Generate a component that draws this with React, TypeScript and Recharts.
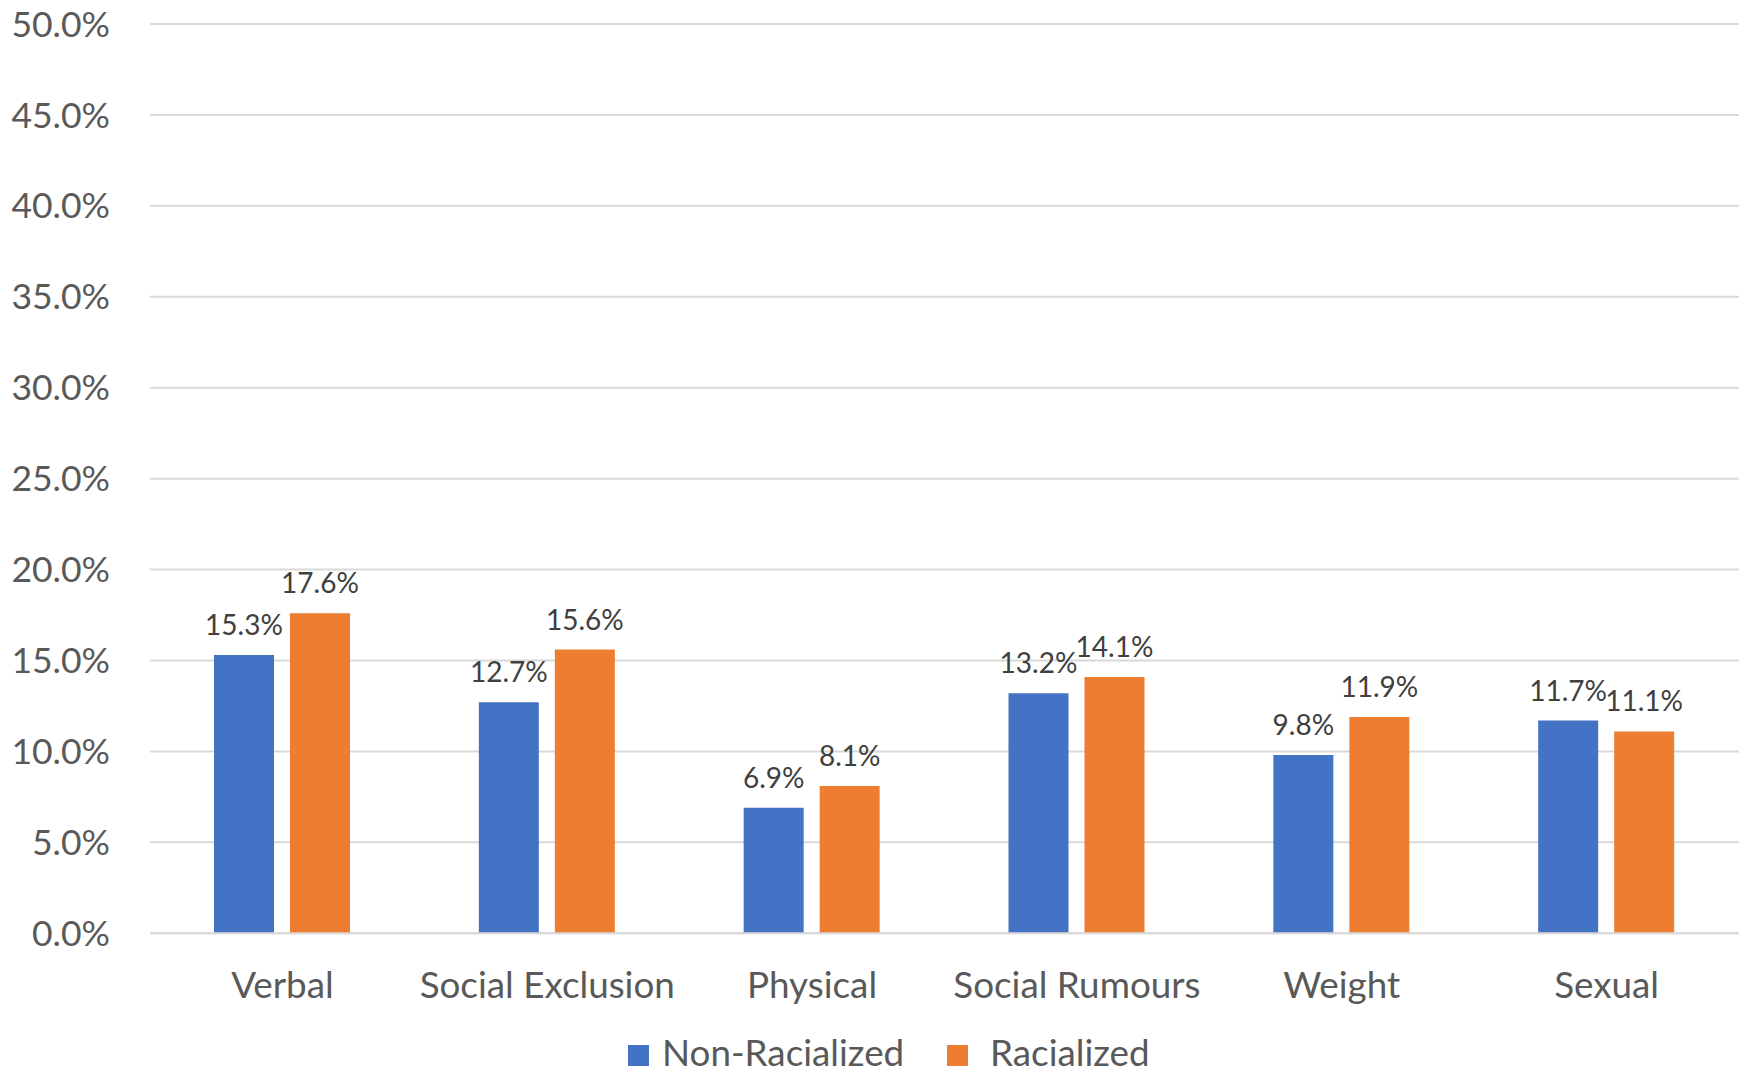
import React from "react";
import { BarChart, Bar, XAxis, YAxis, CartesianGrid, Legend, LabelList } from "recharts";

const categories = ["Verbal", "Social Exclusion", "Physical", "Social Rumours", "Weight", "Sexual"];
const nonRacialized = [15.3, 12.7, 6.9, 13.2, 9.8, 11.7];
const racialized = [17.6, 15.6, 8.1, 14.1, 11.9, 11.1];
const yTicks = [0, 5, 10, 15, 20, 25, 30, 35, 40, 45, 50];
const seriesNames = ["Non-Racialized", "Racialized"];

const data = categories.map((c, i) => ({
  name: c,
  nonRacialized: nonRacialized[i],
  racialized: racialized[i],
}));

const FONT = "Lato, 'Open Sans', sans-serif";
const BLUE = "#4472C4";
const ORANGE = "#ED7D31";

const fmt = (v: number) => v.toFixed(1) + "%";

const XTick = (props: any) => {
  const { x, y, payload } = props;
  return (
    <text x={x} y={y + 65} textAnchor="middle" fill="#595959" fontSize={36.8} fontFamily={FONT}>
      {payload.value}
    </text>
  );
};

const DataLabel = (props: any) => {
  const { x, y, width, value } = props;
  return (
    <text x={x + width / 2} y={y - 20} textAnchor="middle" fill="#404040" fontSize={28} fontFamily={FONT}>
      {fmt(value)}
    </text>
  );
};

const LegendContent = () => (
  <svg width={1746} height={50} style={{ display: "block" }}>
    <rect x={628} y={21} width={21} height={21} fill={BLUE} />
    <text x={662} y={42} fill="#595959" fontSize={36.8} fontFamily={FONT}>{seriesNames[0]}</text>
    <rect x={947} y={21} width={21} height={21} fill={ORANGE} />
    <text x={990} y={42} fill="#595959" fontSize={36.8} fontFamily={FONT}>{seriesNames[1]}</text>
  </svg>
);

export default function App() {
  return (
    <div style={{ position: "absolute", left: 0, top: 0, width: 1746, height: 1074, background: "#fff" }}>
      <BarChart
        width={1746}
        height={1074}
        data={data}
        margin={{ top: 24, right: 7, left: 0, bottom: 0 }}
        barSize={60}
        barGap={16}
      >
        <CartesianGrid vertical={false} stroke="#D9D9D9" strokeWidth={2} />
        <XAxis
          dataKey="name"
          height={90.7}
          axisLine={{ stroke: "#D9D9D9", strokeWidth: 2 }}
          tickLine={false}
          tickSize={0}
          tickMargin={0}
          tick={<XTick />}
          interval={0}
        />
        <YAxis
          width={150}
          domain={[0, 50]}
          ticks={yTicks}
          axisLine={false}
          tickLine={false}
          tickSize={0}
          tickMargin={40}
          tickFormatter={fmt}
          tick={{ fill: "#595959", fontSize: 35.5, fontFamily: FONT }}
        />
        <Legend
          verticalAlign="bottom"
          content={<LegendContent />}
          wrapperStyle={{ left: 0, width: 1746, height: 50 }}
        />
        <Bar dataKey="nonRacialized" name={seriesNames[0]} fill={BLUE} isAnimationActive={false}>
          <LabelList dataKey="nonRacialized" content={<DataLabel />} />
        </Bar>
        <Bar dataKey="racialized" name={seriesNames[1]} fill={ORANGE} isAnimationActive={false}>
          <LabelList dataKey="racialized" content={<DataLabel />} />
        </Bar>
      </BarChart>
    </div>
  );
}
